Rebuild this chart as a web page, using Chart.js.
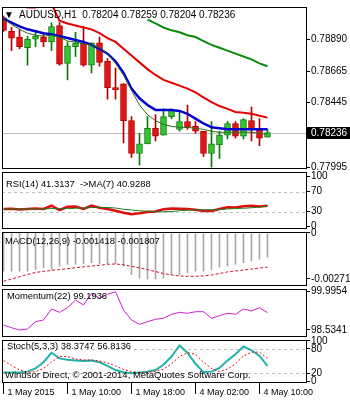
<!DOCTYPE html>
<html>
<head>
<meta charset="utf-8">
<script src="https://cdn.jsdelivr.net/npm/chart.js@4.4.1/dist/chart.umd.min.js"></script>
<style>
html, body { margin: 0; padding: 0; background: #fff; }
#wrap { position: relative; width: 350px; height: 400px; overflow: hidden; }
#wrap canvas { position: absolute; left: 0; top: 0; }
</style>
</head>
<body>
<div id="wrap">
  <canvas id="cMain" width="350" height="400"></canvas>
  <canvas id="cRsi" width="350" height="400"></canvas>
  <canvas id="cMacd" width="350" height="400"></canvas>
  <canvas id="cMom" width="350" height="400"></canvas>
  <canvas id="cSto" width="350" height="400"></canvas>
</div>
<script>
// AUDUSD H1 bars, oldest first
const barOpen  = [0.79039,0.78944,0.78904,0.78829,0.78890,0.78904,0.78870,0.78985,0.78720,0.78836,0.78863,0.78707,0.78863,0.78734,0.78551,0.78578,0.78320,0.78090,0.78158,0.78266,0.78219,0.78348,0.78259,0.78314,0.78280,0.78246,0.78090,0.78151,0.78219,0.78300,0.78212,0.78320,0.78259,0.78204];
const barHigh  = [0.79050,0.78971,0.78958,0.78910,0.78937,0.78924,0.79005,0.79005,0.78870,0.78937,0.78978,0.78863,0.78904,0.78754,0.78687,0.78578,0.78348,0.78232,0.78348,0.78361,0.78402,0.78402,0.78381,0.78429,0.78314,0.78246,0.78314,0.78246,0.78314,0.78314,0.78334,0.78415,0.78334,0.78259];
const barLow   = [0.78944,0.78809,0.78822,0.78707,0.78836,0.78836,0.78809,0.78707,0.78605,0.78768,0.78700,0.78653,0.78700,0.78470,0.78470,0.78165,0.78063,0.78009,0.78158,0.78178,0.78219,0.78334,0.78246,0.78259,0.78232,0.78070,0.77995,0.78056,0.78192,0.78198,0.78192,0.78178,0.78144,0.78204];
const barClose = [0.78951,0.78897,0.78836,0.78890,0.78910,0.78870,0.78978,0.78714,0.78843,0.78863,0.78707,0.78863,0.78727,0.78551,0.78537,0.78320,0.78090,0.78158,0.78266,0.78212,0.78348,0.78395,0.78314,0.78273,0.78246,0.78090,0.78158,0.78219,0.78300,0.78212,0.78327,0.78259,0.78198,0.78236];

// moving averages on price
const fastMa = [0.79032,0.78992,0.78958,0.78931,0.78917,0.78910,0.78917,0.78904,0.78876,0.78870,0.78856,0.78849,0.78829,0.78788,0.78720,0.78639,0.78531,0.78429,0.78361,0.78320,0.78293,0.78280,0.78273,0.78273,0.78266,0.78259,0.78246,0.78239,0.78239,0.78239,0.78239,0.78239,0.78232,0.78226];
const blueMa = [0.79032,0.79005,0.78978,0.78958,0.78944,0.78931,0.78924,0.78910,0.78897,0.78883,0.78870,0.78849,0.78822,0.78788,0.78734,0.78653,0.78544,0.78476,0.78429,0.78395,0.78395,0.78395,0.78388,0.78368,0.78334,0.78300,0.78273,0.78266,0.78259,0.78259,0.78259,0.78259,0.78259,0.78259];
const redMa  = [0.79161,0.79141,0.79134,0.79110,0.79110,0.79134,0.79134,0.79019,0.78999,0.78985,0.78971,0.78958,0.78931,0.78897,0.78870,0.78822,0.78775,0.78727,0.78680,0.78639,0.78605,0.78585,0.78565,0.78544,0.78517,0.78483,0.78449,0.78422,0.78402,0.78381,0.78375,0.78368,0.78354,0.78341];
const slowMa = [null,null,null,null,null,null,null,null,null,null,null,null,null,null,null,null,null,null,0.79026,0.78999,0.78971,0.78951,0.78937,0.78917,0.78904,0.78876,0.78849,0.78829,0.78809,0.78788,0.78768,0.78748,0.78720,0.78700];
const priceTicks = [0.78890, 0.78665, 0.78445, 0.77995];

// indicators
const rsi    = [35,35.5,34,35,36,35,41.5,33,39.5,40,35,42,37.5,35,31.5,27.5,24.5,26.5,29,30,34.5,36,35.5,35,33.5,31,31,35,38.5,38,40.5,41.5,40,41.3];
const rsiMa  = [35,35,35,35,35,35,36,35.5,36,36.5,37,38,38,38,37,34.5,33,31.5,30.5,29.5,29.5,30,31.5,32.5,33.5,33.5,33.5,34,35,36,36.5,37.5,39,40.9];
const rsiLevels = [30, 70];
const rsiTicks = [100, 70, 30, 0];

const macdHist = [-0.002255,-0.002255,-0.002255,-0.002255,-0.002154,-0.002054,-0.002154,-0.001953,-0.001852,-0.001852,-0.001812,-0.001752,-0.001812,-0.001812,-0.001812,-0.001953,-0.002456,-0.002658,-0.002718,-0.002718,-0.002658,-0.002456,-0.002456,-0.002356,-0.002255,-0.002255,-0.002154,-0.002014,-0.001953,-0.001852,-0.001752,-0.001651,-0.00155,-0.001418];
const macdSignal = [-0.00285,-0.00272,-0.00258,-0.00245,-0.00233,-0.00227,-0.00221,-0.00216,-0.00211,-0.00205,-0.00200,-0.00195,-0.00191,-0.00185,-0.00183,-0.00188,-0.00197,-0.00206,-0.00216,-0.00228,-0.00239,-0.00248,-0.00254,-0.00256,-0.00256,-0.00253,-0.00248,-0.00240,-0.00230,-0.00224,-0.00219,-0.00213,-0.00207,-0.00202];
const macdTicks = [0, -0.002718];

const momentum = [98.724,98.621,98.534,98.572,98.850,98.915,99.335,99.209,99.385,99.679,99.488,99.934,99.743,99.896,99.995,99.297,98.915,98.751,98.850,98.942,98.980,99.133,99.209,99.171,99.232,99.232,98.980,99.080,99.171,99.133,99.335,99.259,99.385,99.194];
const momTicks = [99.9954, 98.5341];

const stochMain = [21.6,21.6,21.6,24,31.8,47.2,70.5,56.6,53.5,51.2,50.4,51.2,47.2,38,27.9,22.5,20.2,21.6,24,27.9,41,61.2,88.4,70.5,43.4,22.5,24,33.3,51.2,66.7,86,76.7,62.8,38.4];
const stochSig  = [51.2,39.5,27.9,22.5,24,31.8,47.2,61.2,61.2,55,52.7,52.7,50.4,45.7,38,29.5,24,21.6,22.5,24.8,30.2,43.4,61.2,70.5,66.7,47.2,31.8,24,30.2,43.4,62.8,72.1,72.1,56.8];
const stochLevels = [20, 80];
const stochTicks = [100, 80, 20, 0];

const timeTicks = [0, 8, 16, 24, 32];
const timeLabels = ['1 May 2015', '1 May 10:00', '1 May 18:00', '4 May 02:00', '4 May 10:00'];

const FONT = '"Liberation Sans", "DejaVu Sans", sans-serif';
const xMin = -0.19, xMax = 37.94;
const pts = arr => arr.map((v, i) => ({ x: i, y: v }));

// frame, level lines, titles and the last-price box
const mtPlugin = {
    id: 'mt',
    beforeDatasetsDraw(chart, args, o) {
        const { ctx, chartArea: a } = chart;
        const y = chart.scales.y;
        ctx.save();
        ctx.lineWidth = 1;
        ctx.strokeStyle = '#c0c0c0';
        ctx.setLineDash([3, 3]);
        (o.levels || []).forEach(v => {
            const py = Math.round(y.getPixelForValue(v)) + 0.5;
            ctx.beginPath(); ctx.moveTo(a.left, py); ctx.lineTo(a.right, py); ctx.stroke();
        });
        ctx.setLineDash([]);
        if (o.lastPrice != null) {
            const py = Math.round(y.getPixelForValue(o.lastPrice)) + 0.5;
            ctx.beginPath(); ctx.moveTo(a.left, py); ctx.lineTo(a.right, py); ctx.stroke();
        }
        ctx.restore();
    },
    afterDraw(chart, args, o) {
        const { ctx, chartArea: a } = chart;
        ctx.save();
        ctx.strokeStyle = '#000';
        ctx.lineWidth = 1;
        ctx.strokeRect(a.left + 0.5, a.top + 0.5, a.right - a.left - 1, a.bottom - a.top - 1);
        ctx.fillStyle = '#000';
        ctx.textBaseline = 'middle';
        (o.texts || []).forEach(t => {
            ctx.font = (t.size || 10) + 'px ' + FONT;
            ctx.fillText(t.text, a.left + t.dx, a.top + t.dy);
        });
        if (o.lastPrice != null) {
            const py = Math.round(chart.scales.y.getPixelForValue(o.lastPrice));
            ctx.fillRect(a.right, py - 6, chart.width - a.right, 12);
            ctx.fillStyle = '#fff';
            ctx.font = '10px ' + FONT;
            ctx.fillText(o.lastPrice.toFixed(5), a.right + 4, py + 0.5);
        }
        ctx.restore();
    }
};

function rightAxis(min, max, ticks, fmt) {
    return {
        position: 'right', min, max,
        afterBuildTicks: s => { s.ticks = ticks.map(v => ({ value: v })); },
        afterFit: s => { s.width = 43; },
        ticks: { autoSkip: false, source: 'data', padding: 1, color: '#000', font: { family: FONT, size: 10 }, callback: fmt },
        grid: { drawOnChartArea: false, drawTicks: true, tickLength: 3, tickColor: '#000' },
        border: { display: false }
    };
}

function hiddenX() {
    return { type: 'linear', min: xMin, max: xMax, offset: false, display: false };
}

function panel(id, pad, datasets, y, x, mt) {
    return new Chart(document.getElementById(id), {
        data: { datasets },
        options: {
            responsive: false, animation: false, events: [],
            layout: { padding: pad },
            plugins: { legend: { display: false }, tooltip: { enabled: false }, mt },
            scales: { x, y }
        },
        plugins: [mtPlugin]
    });
}

function drawMain() {
    const bull = barOpen.map((o, i) => barClose[i] >= o);
    const wicks = {
        type: 'bar', order: 4, grouped: false, barThickness: 1,
        data: barLow.map((l, i) => ({ x: i, y: [l, barHigh[i]] })),
        backgroundColor: bull.map(b => b ? '#0a7a0a' : '#b00000')
    };
    const bodies = {
        type: 'bar', order: 3, grouped: false, barThickness: 6,
        data: barOpen.map((o, i) => ({ x: i, y: [o, barClose[i]] })),
        backgroundColor: bull.map(b => b ? '#33c433' : '#e31414'),
        borderColor: bull.map(b => b ? '#167a16' : '#b00000'),
        borderWidth: 1, borderSkipped: false
    };
    const line = (arr, color, w, order) => ({
        type: 'line', order, data: pts(arr), borderColor: color, borderWidth: w,
        pointRadius: 0, tension: 0, spanGaps: false
    });
    panel('cMain', { left: 2, top: 2, right: 0, bottom: 231 },
        [wicks, bodies,
         line(slowMa, '#0a8a0a', 2, 2),
         line(redMa, '#e40000', 2, 2),
         line(blueMa, '#0000d0', 2.5, 1),
         line(fastMa, '#2e6b1a', 1, 0)],
        rightAxis(0.77982, 0.79114, priceTicks, v => v.toFixed(5)),
        hiddenX(),
        {
            lastPrice: barClose[barClose.length - 1],
            texts: [
                { text: '\u25BC', dx: 2, dy: 8, size: 10 },
                { text: 'AUDUSD,H1  ' + [barOpen[33], barHigh[33], barLow[33], barClose[33]].map(v => v.toFixed(5)).join(' '), dx: 17, dy: 8 }
            ]
        });
}

function drawRsi() {
    panel('cRsi', { left: 2, top: 172, right: 0, bottom: 171 },
        [
            { type: 'line', order: 1, data: pts(rsi), borderColor: '#dd1010', borderWidth: 2.5, pointRadius: 0, tension: 0 },
            { type: 'line', order: 0, data: pts(rsiMa), borderColor: '#1f7a1f', borderWidth: 1, pointRadius: 0, tension: 0 }
        ],
        rightAxis(-5, 109, rsiTicks, v => String(v)),
        hiddenX(),
        { levels: rsiLevels, texts: [{ text: 'RSI(14) 41.3137  ->MA(7) 40.9288', dx: 4, dy: 12, size: 9.4 }] });
}

function drawMacd() {
    panel('cMacd', { left: 2, top: 232, right: 0, bottom: 114 },
        [
            { type: 'bar', order: 1, data: pts(macdHist), backgroundColor: '#a8a8a8', barThickness: 1 },
            { type: 'line', order: 0, data: pts(macdSignal), borderColor: '#d01030', borderWidth: 1, borderDash: [3, 2], pointRadius: 0, tension: 0 }
        ],
        rightAxis(-0.003132, 0.000059, macdTicks, v => String(v)),
        hiddenX(),
        { texts: [{ text: 'MACD(12,26,9) -0.001418 -0.001807', dx: 3, dy: 9, size: 9.4 }] });
}

function drawMomentum() {
    panel('cMom', { left: 2, top: 289, right: 0, bottom: 63 },
        [{ type: 'line', data: pts(momentum), borderColor: '#cc22cc', borderWidth: 1, pointRadius: 0, tension: 0 }],
        rightAxis(98.2664, 100.0985, momTicks, v => v.toFixed(4)),
        hiddenX(),
        { texts: [{ text: 'Momentum(22) 99.1936', dx: 5, dy: 7, size: 9.4 }] });
}

function drawStoch() {
    const x = {
        type: 'linear', min: xMin, max: xMax, offset: false, position: 'bottom',
        afterBuildTicks: s => { s.ticks = timeTicks.map(v => ({ value: v })); },
        afterFit: s => { s.height = 17; },
        ticks: { autoSkip: false, maxRotation: 0, minRotation: 0, align: 'start', labelOffset: 4, padding: -7,
                 color: '#000', font: { family: FONT, size: 9 }, callback: (v, i) => timeLabels[i] },
        grid: { drawOnChartArea: false, drawTicks: true, tickLength: 11, tickColor: '#000' },
        border: { display: false }
    };
    panel('cSto', { left: 2, top: 340, right: 0, bottom: 0 },
        [
            { type: 'line', order: 1, data: pts(stochMain), borderColor: '#20b2aa', borderWidth: 2, pointRadius: 0, tension: 0 },
            { type: 'line', order: 0, data: pts(stochSig), borderColor: '#e01010', borderWidth: 1, borderDash: [2, 2], pointRadius: 0, tension: 0 }
        ],
        rightAxis(-4, 102, stochTicks, v => String(v)),
        x,
        {
            levels: stochLevels,
            texts: [
                { text: 'Stoch(5,3,3) 38.3747 56.8136', dx: 5, dy: 6, size: 9.4 },
                { text: 'Windsor Direct, \u00A9 2001-2014, MetaQuotes Software Corp.', dx: 3, dy: 35, size: 9.5 }
            ]
        });
}

drawMain();
drawRsi();
drawMacd();
drawMomentum();
drawStoch();
</script>
</body>
</html>
